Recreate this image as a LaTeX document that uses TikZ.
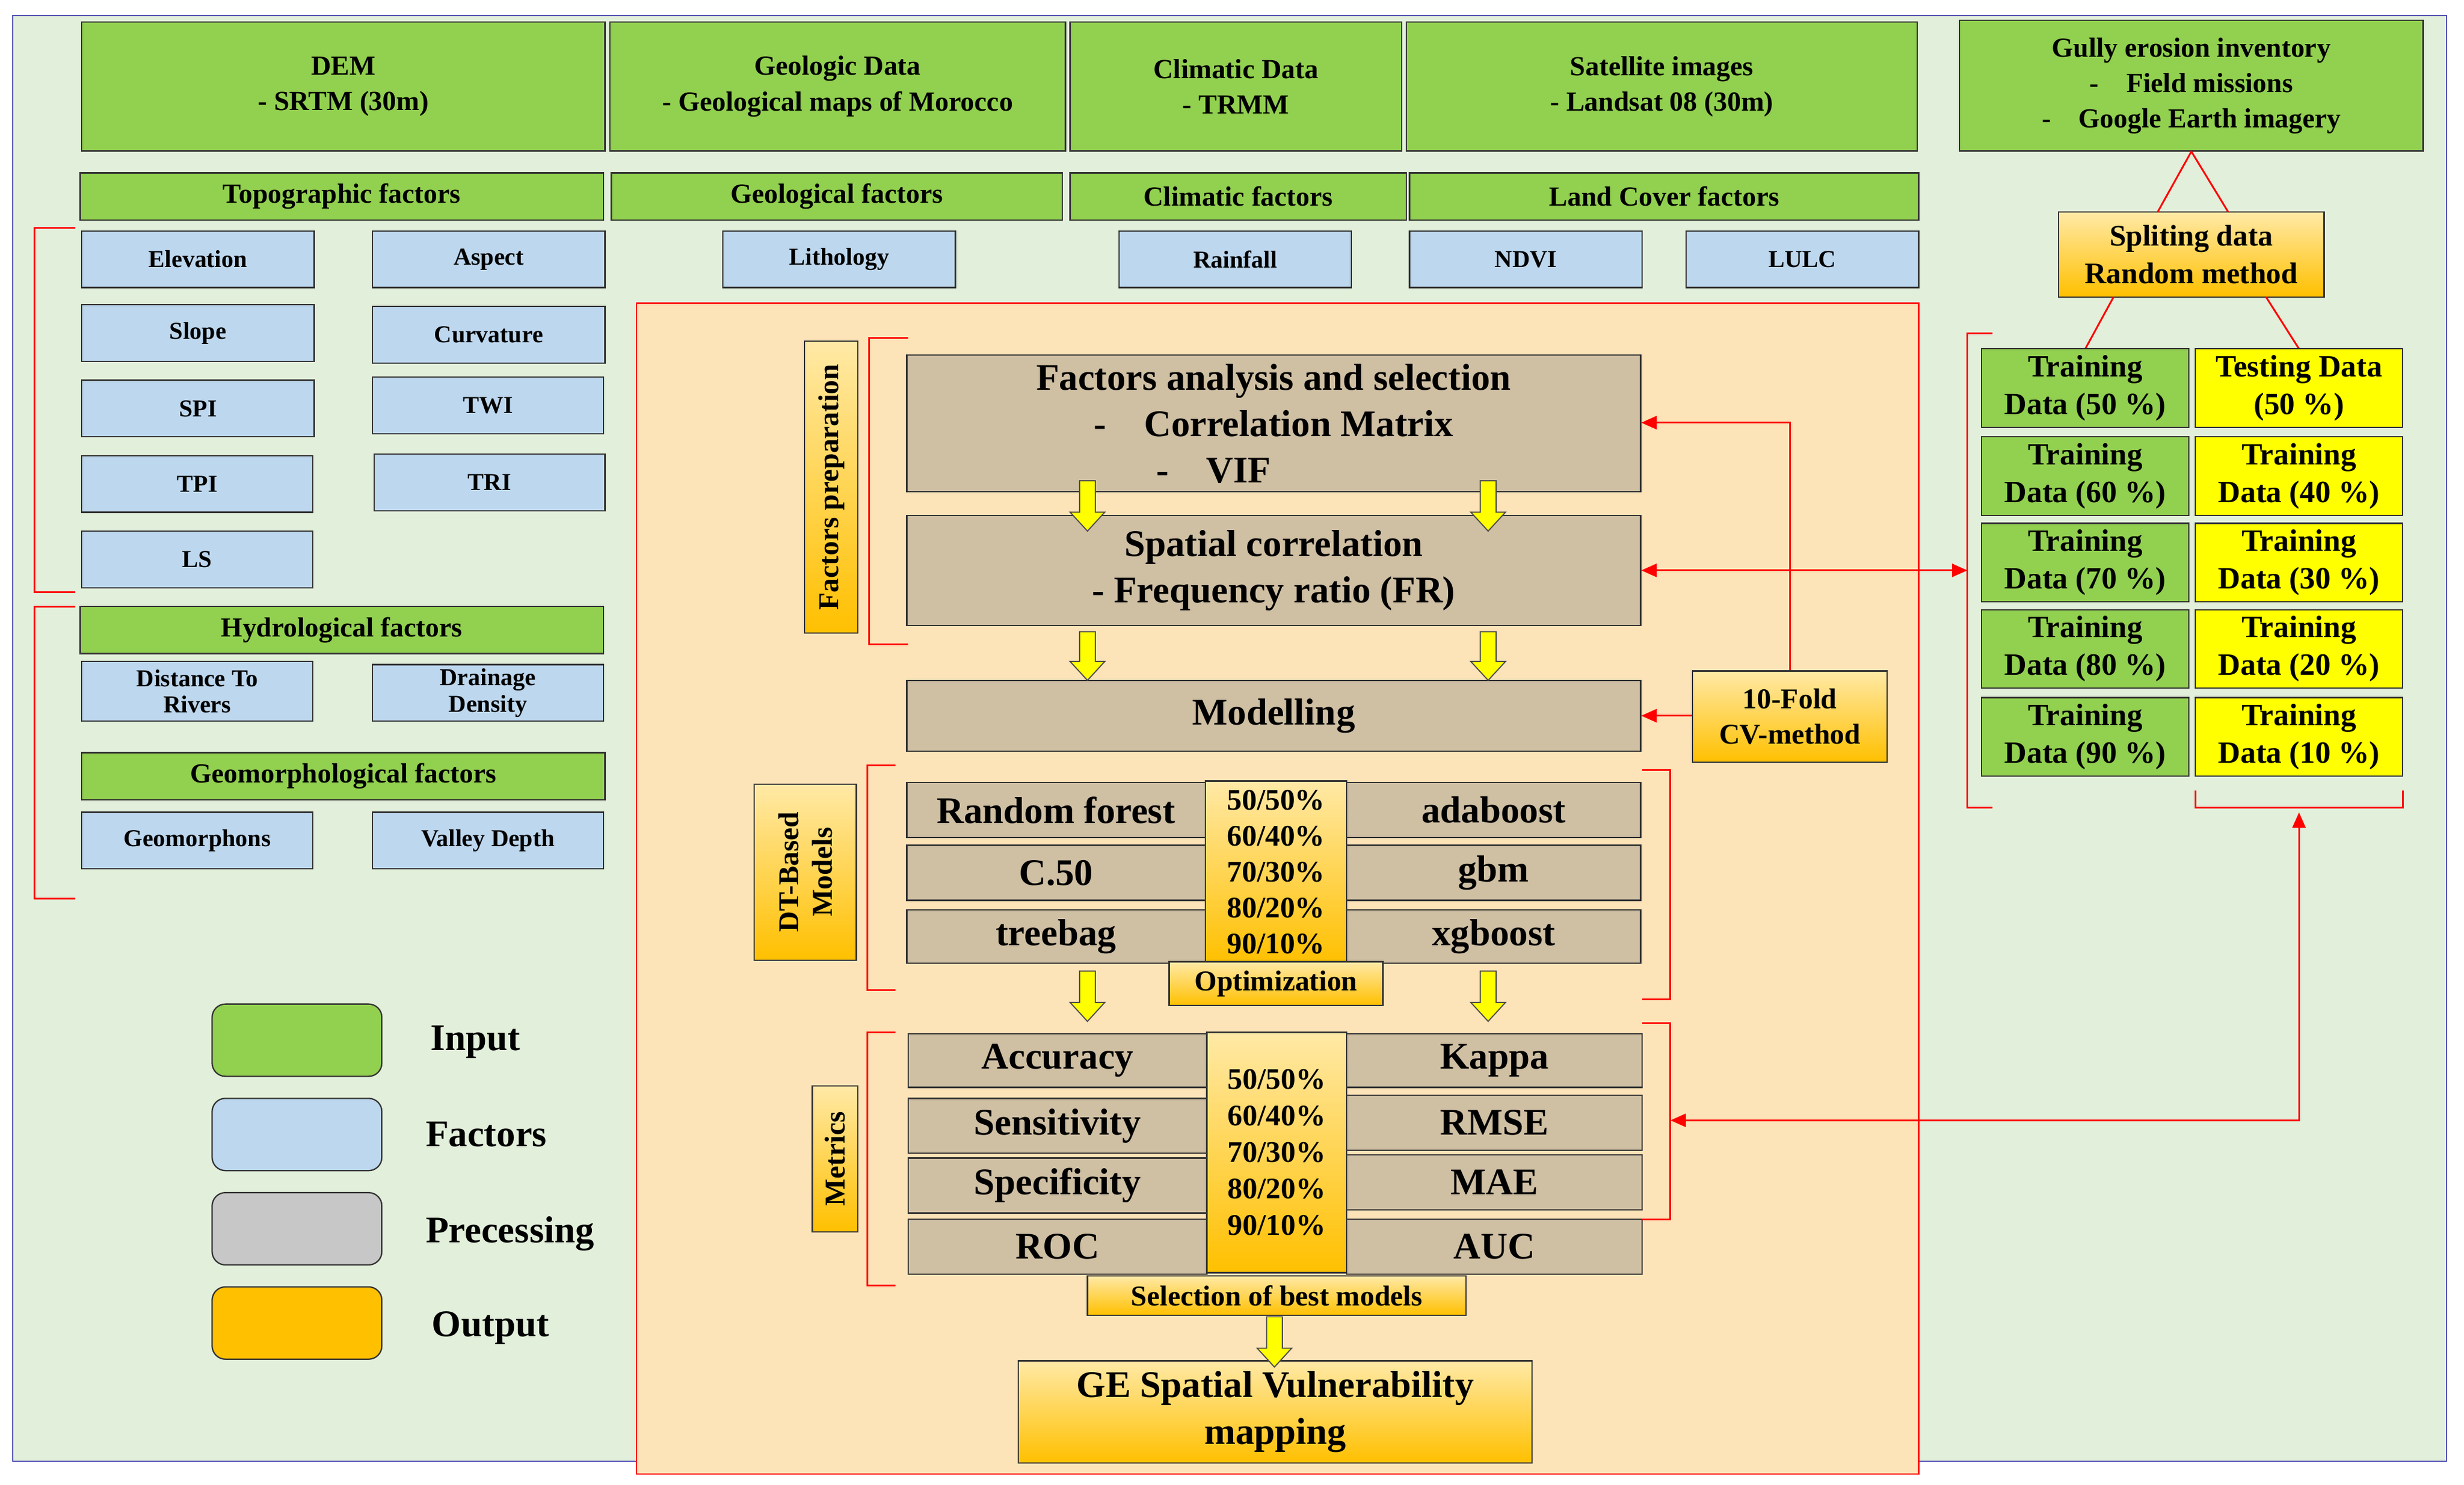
\documentclass[tikz,border=0pt]{standalone}
\usepackage{fontspec}
\setmainfont{Liberation Serif}
\usetikzlibrary{fit,arrows.meta}
\definecolor{bg}{HTML}{E2EFDA}
\definecolor{gr}{HTML}{92D050}
\definecolor{bl}{HTML}{BDD7EE}
\definecolor{tan}{HTML}{CFBFA3}
\definecolor{pan}{HTML}{FCE3B8}
\definecolor{og1}{HTML}{FFE9A6}
\definecolor{og2}{HTML}{FFC000}
\definecolor{yl}{HTML}{FFFF00}
\newcommand\bx[7][]{\node[#1, fit={(#3,#4)(#5,#6)}, inner sep=0pt] (#2) {};
 \node[align=center, inner sep=0pt, txt] at (#2.center) {#7};}
\tikzset{
 txt/.style={font=\fontsize{11}{13}\selectfont\bfseries},
 base/.style={draw=black!80, line width=0.6pt},
 G/.style={base, fill=gr},
 B/.style={base, fill=bl},
 T/.style={base, fill=tan},
 O/.style={base, top color=og1, bottom color=og2},
 Y/.style={base, fill=yl},
 red/.style={draw=red, line width=0.8pt},
 ra/.style={red, -{Triangle[length=7pt,width=6pt]}},
 yarr/.style={draw=black!70, fill=yl, line width=0.5pt},
}
\newcommand\yarrow[3]{\filldraw[yarr] (#1-5,#2) -- (#1+5,#2) -- (#1+5,#3-12) -- (#1+11,#3-12) -- (#1,#3) -- (#1-11,#3-12) -- (#1-5,#3-12) -- cycle;}
\begin{document}
\begin{tikzpicture}[x=0.025cm,y=-0.025cm]
\useasboundingbox (0,0) rectangle (1568,945);
\fill[bg] (8,10) rectangle (1557,930);
\draw[blue!40!gray, line width=0.6pt] (8,10) rectangle (1557,930);
% top inputs
\begin{scope}[txt/.style={font=\fontsize{12.5}{16}\selectfont\bfseries}]
\bx[G]{dem}{52}{14}{385}{96}{DEM\\ - SRTM (30m)}
\bx[G]{geo}{388}{14}{678}{96}{Geologic Data\\ - Geological maps of Morocco}
\bx[G]{cli}{681}{14}{892}{96}{Climatic Data\\ - TRMM}
\bx[G]{sat}{895}{14}{1220}{96}{Satellite images\\ - Landsat 08 (30m)}
\bx[G]{gul}{1247}{13}{1542}{96}{Gully erosion inventory\\ -\quad Field missions\quad\\ -\quad Google Earth imagery}
\end{scope}
% group headers
\begin{scope}[txt/.style={font=\fontsize{12.5}{14}\selectfont\bfseries}]
\bx[G]{htop}{51}{110}{384}{140}{Topographic factors}
\bx[G]{hgeo}{389}{110}{676}{140}{Geological factors}
\bx[G]{hcli}{681}{110}{895}{140}{Climatic factors}
\bx[G]{hlc}{897}{110}{1221}{140}{Land Cover factors}
\bx[G]{hhyd}{51}{386}{384}{416}{Hydrological factors}
\bx[G]{hgm}{52}{479}{385}{509}{Geomorphological factors}
\end{scope}
% factors
\begin{scope}[txt/.style={font=\fontsize{11}{12}\selectfont\bfseries}]
\bx[B]{elev}{52}{147}{200}{183}{Elevation}
\bx[B]{asp}{237}{147}{385}{183}{Aspect}
\bx[B]{lith}{460}{147}{608}{183}{Lithology}
\bx[B]{rain}{712}{147}{860}{183}{Rainfall}
\bx[B]{ndvi}{897}{147}{1045}{183}{NDVI}
\bx[B]{lulc}{1073}{147}{1221}{183}{LULC}
\bx[B]{slope}{52}{194}{200}{230}{Slope}
\bx[B]{curv}{237}{195}{385}{231}{Curvature}
\bx[B]{spi}{52}{242}{200}{278}{SPI}
\bx[B]{twi}{237}{240}{384}{276}{TWI}
\bx[B]{tpi}{52}{290}{199}{326}{TPI}
\bx[B]{tri}{238}{289}{385}{325}{TRI}
\bx[B]{ls}{52}{338}{199}{374}{LS}
\bx[B]{dtr}{52}{421}{199}{459}{Distance To\\Rivers}
\bx[B]{dd}{237}{423}{384}{459}{Drainage\\Density}
\bx[B]{gmf}{52}{517}{199}{553}{Geomorphons}
\bx[B]{vd}{237}{517}{384}{553}{Valley Depth}
\end{scope}
\draw[red] (48,145) -- (22,145) -- (22,377) -- (48,377);
\draw[red] (48,386) -- (22,386) -- (22,572) -- (48,572);
% legend
\tikzset{lg/.style={base, rounded corners=6pt, minimum width=108*0.025cm, minimum height=46*0.025cm}, lt/.style={font=\fontsize{17}{18}\selectfont\bfseries, anchor=west}}
\node[lg, fill=gr] (lg1) at (189,662) {};
\node[lg, fill=bl] (lg2) at (189,722) {};
\node[lg, fill=black!22] (lg3) at (189,782) {};
\node[lg, fill=og2] (lg4) at (189,842) {};
\node[lt] (t1) at (269,663) {Input};
\node[lt] (t2) at (266,722) {Factors};
\node[lt] (t3) at (266,785) {Precessing};
\node[lt] (t4) at (270,845) {Output};
% panel
\fill[pan] (405,193) rectangle (1221,938);
\draw[red, line width=0.6pt] (405,193) rectangle (1221,938);
\begin{scope}[txt/.style={font=\fontsize{17}{21}\selectfont\bfseries}]
\bx[T]{fas}{577}{226}{1044}{313}{Factors analysis and selection\\ -\quad Correlation Matrix\\ -\quad VIF\hspace*{3.2em}}
\bx[T]{sc}{577}{328}{1044}{398}{Spatial correlation\\ - Frequency ratio (FR)}
\bx[T]{mod}{577}{433}{1044}{478}{Modelling}
\bx[T]{rf}{577}{498}{767}{533}{Random forest}
\bx[T]{ada}{857}{498}{1044}{533}{adaboost}
\bx[T]{c50}{577}{538}{767}{573}{C.50}
\bx[T]{gbm}{857}{538}{1044}{573}{gbm}
\bx[T]{tb}{577}{579}{767}{613}{treebag}
\bx[T]{xgb}{857}{579}{1044}{613}{xgboost}
\bx[T]{acc}{578}{658}{768}{692}{Accuracy}
\bx[T]{kap}{857}{658}{1045}{692}{Kappa}
\bx[T]{sen}{578}{699}{768}{734}{Sensitivity}
\bx[T]{rmse}{857}{697}{1045}{732}{RMSE}
\bx[T]{spe}{578}{737}{768}{772}{Specificity}
\bx[T]{mae}{857}{735}{1045}{770}{MAE}
\bx[T]{roc}{578}{776}{768}{811}{ROC}
\bx[T]{auc}{857}{776}{1045}{811}{AUC}
\bx[O]{ge}{648}{866}{975}{931}{GE Spatial Vulnerability\\mapping}
\end{scope}
\begin{scope}[txt/.style={font=\fontsize{13.5}{16.3}\selectfont\bfseries}]
\bx[O]{r1}{767}{497}{857}{613}{50/50\%\\60/40\%\\70/30\%\\80/20\%\\90/10\%}
\end{scope}
\begin{scope}[txt/.style={font=\fontsize{13.5}{16.5}\selectfont\bfseries}]
\bx[O]{r2}{768}{657}{857}{810}{50/50\%\\60/40\%\\70/30\%\\80/20\%\\90/10\%}
\end{scope}
\begin{scope}[txt/.style={font=\fontsize{13}{16}\selectfont\bfseries}]
\bx[O]{opt}{744}{612}{880}{640}{Optimization}
\bx[O]{sel}{692}{812}{933}{837}{Selection of best models}
\bx[O]{cv}{1077}{427}{1201}{485}{10-Fold\\CV-method}
\end{scope}
\tikzset{vt/.style={rotate=90, font=\fontsize{13}{15}\selectfont\bfseries, align=center}}
\bx[O]{fp}{512}{217}{546}{403}{}
\node[vt] at (fp) {Factors preparation};
\bx[O]{dt}{480}{499}{545}{611}{}
\node[vt] at (dt) {DT-Based\\Models};
\bx[O]{met}{517}{691}{546}{784}{}
\node[vt] at (met) {Metrics};
% brackets in panel
\draw[red] (578,215) -- (553,215) -- (553,410) -- (578,410);
\draw[red] (570,487) -- (552,487) -- (552,630) -- (570,630);
\draw[red] (570,657) -- (552,657) -- (552,818) -- (570,818);
\draw[red] (1045,490) -- (1063,490) -- (1063,636) -- (1045,636);
\draw[red] (1045,651) -- (1063,651) -- (1063,776) -- (1045,776);
% yellow arrows
\yarrow{692}{306}{338}\yarrow{947}{306}{338}
\yarrow{692}{402}{433}\yarrow{947}{402}{433}
\yarrow{692}{618}{650}\yarrow{947}{618}{650}
\yarrow{811}{838}{870}
% right side
\begin{scope}[txt/.style={font=\fontsize{13.5}{17}\selectfont\bfseries}]
\bx[O]{spl}{1310}{135}{1479}{189}{Spliting data\\Random method}
\end{scope}
\draw[red] (1373,135) -- (gul.south) -- (1418,135);
\draw[red] (1345,189) -- (1327,222);
\draw[red] (1442,189) -- (1463,222);
\begin{scope}[txt/.style={font=\fontsize{14}{17}\selectfont\bfseries}]
\bx[G]{tr1}{1261}{222}{1393}{272}{Training\\Data (50 \%)}
\bx[Y]{ts1}{1397}{222}{1529}{272}{Testing Data\\(50 \%)}
\bx[G]{tr2}{1261}{278}{1393}{328}{Training\\Data (60 \%)}
\bx[Y]{ts2}{1397}{278}{1529}{328}{Training\\Data (40 \%)}
\bx[G]{tr3}{1261}{333}{1393}{383}{Training\\Data (70 \%)}
\bx[Y]{ts3}{1397}{333}{1529}{383}{Training\\Data (30 \%)}
\bx[G]{tr4}{1261}{388}{1393}{438}{Training\\Data (80 \%)}
\bx[Y]{ts4}{1397}{388}{1529}{438}{Training\\Data (20 \%)}
\bx[G]{tr5}{1261}{444}{1393}{494}{Training\\Data (90 \%)}
\bx[Y]{ts5}{1397}{444}{1529}{494}{Training\\Data (10 \%)}
\end{scope}
\draw[red] (1268,212) -- (1252,212) -- (1252,514) -- (1268,514);
\draw[red] (1397,503) -- (1397,514) -- (1529,514) -- (1529,503);
\coordinate (brL) at (1252,363);
\coordinate (brB) at (1463,517);
% red connectors
\draw[ra] (cv.north) |- (fas.east |- 0,269);
\draw[ra] (cv.west |- mod.east) -- (mod.east);
\draw[ra, {Triangle[length=7pt,width=6pt]}-{Triangle[length=7pt,width=6pt]}] (sc.east) -- (brL);
\draw[ra, {Triangle[length=7pt,width=6pt]}-{Triangle[length=7pt,width=6pt]}] (brB) |- (1063,713);
\end{tikzpicture}
\end{document}
